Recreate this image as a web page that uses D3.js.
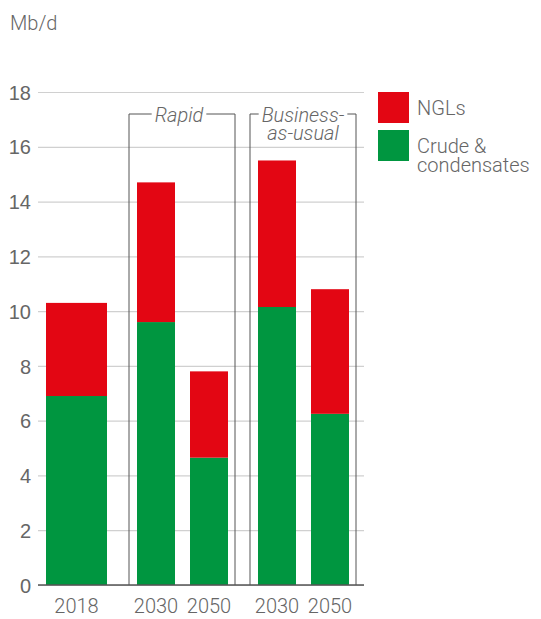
<!DOCTYPE html>
<html>
<head>
<meta charset="utf-8">
<script src="https://cdn.jsdelivr.net/npm/d3@7"></script>
<style>
  html, body { margin: 0; padding: 0; background: #fff; }
  svg { display: block; font-family: Roboto, "Helvetica Neue", Arial, sans-serif; font-weight: 300; }
</style>
</head>
<body>
<svg id="chart" width="541" height="619"></svg>
<script>
// Oil supply by type, million barrels per day
const keys = ["2018", "Rapid 2030", "Rapid 2050", "BAU 2030", "BAU 2050"];
const yearLabels = ["2018", "2030", "2050", "2030", "2050"];
const crude = [6.9, 9.6, 4.65, 10.15, 6.25];
const ngls = [3.4, 5.1, 3.15, 5.35, 4.55];
const yTicks = [0, 2, 4, 6, 8, 10, 12, 14, 16, 18];
const seriesNames = [["NGLs"], ["Crude &", "condensates"]];
const scenarios = [
  { name: ["Rapid"], members: ["Rapid 2030", "Rapid 2050"] },
  { name: ["Business-", "as-usual"], members: ["BAU 2030", "BAU 2050"] }
];

const RED = "#e30613", GREEN = "#009640", TEXT = "#666", AXIS = "#555", GRID = "#d0d0d0";

const svg = d3.select("#chart");
const plot = { left: 38, right: 364, top: 92, bottom: 585 };

const y = d3.scaleLinear().domain([0, 18]).range([plot.bottom, plot.top]);
const x = d3.scaleOrdinal().domain(keys).range([76.5, 156, 209, 277, 330]);
const barW = d3.scaleOrdinal().domain(keys).range([61, 38, 38, 38, 38]);

const rows = keys.map((k, i) => ({ key: k, label: yearLabels[i], crude: crude[i], ngls: ngls[i] }));
const stack = d3.stack().keys(["crude", "ngls"])(rows);

// gridlines
const yAxis = d3.axisLeft(y).tickValues(yTicks).tickSize(-(plot.right - plot.left)).tickPadding(7);
const ga = svg.append("g").attr("transform", `translate(${plot.left},0)`).call(yAxis);
ga.select(".domain").remove();
ga.selectAll(".tick line").attr("stroke", GRID).attr("stroke-width", 1.2);
ga.selectAll(".tick text").attr("fill", TEXT).attr("font-size", 20).attr("font-family", null).attr("dy", "0.36em");

// unit label
svg.append("text").attr("x", 10).attr("y", 30).attr("fill", TEXT).attr("font-size", 20).text("Mb/d");

// multi-line label as one text element
function multiline(sel, lines, x0, y0, lh) {
  lines.forEach((t, i) => sel.append("tspan").attr("x", x0).attr("y", y0 + i * lh).text(t));
  return sel;
}

// scenario brackets
const bracketTop = 114;
scenarios.forEach(s => {
  const first = s.members[0], last = s.members[s.members.length - 1];
  const x0 = x(first) - barW(first) / 2 - 8;
  const x1 = x(last) + barW(last) / 2 + 7;
  const g = svg.append("g");
  const cx = (x0 + x1) / 2 + (s.name.length > 1 ? 0 : -3);
  const label = multiline(g.append("text")
    .attr("text-anchor", "middle").attr("font-style", "italic")
    .attr("font-size", 20).attr("fill", TEXT), s.name, cx, 122, 18);
  const w = d3.max(label.selectAll("tspan").nodes(), n => n.getComputedTextLength());
  const tl = cx - w / 2 - 3, tr = cx + w / 2 + 3;
  g.append("path")
    .attr("d", `M${x0},${plot.bottom}V${bracketTop}H${tl}M${tr},${bracketTop}H${x1}V${plot.bottom}`)
    .attr("fill", "none").attr("stroke", AXIS).attr("stroke-width", 1);
});

// stacked bars
const colors = { crude: GREEN, ngls: RED };
svg.append("g").selectAll("g").data(stack).join("g")
  .attr("fill", d => colors[d.key])
  .selectAll("rect").data(d => d).join("rect")
  .attr("x", d => x(d.data.key) - barW(d.data.key) / 2)
  .attr("width", d => barW(d.data.key))
  .attr("y", d => y(d[1]))
  .attr("height", d => y(d[0]) - y(d[1]));

// baseline axis
svg.append("line").attr("x1", plot.left).attr("x2", plot.right)
  .attr("y1", plot.bottom).attr("y2", plot.bottom)
  .attr("stroke", AXIS).attr("stroke-width", 1.5);

// year labels
svg.append("g").selectAll("text").data(rows).join("text")
  .attr("x", d => x(d.key)).attr("y", 613)
  .attr("text-anchor", "middle").attr("font-size", 20).attr("fill", TEXT)
  .text(d => d.label);

// legend
const legend = svg.append("g").attr("transform", "translate(378,92)");
[RED, GREEN].forEach((c, i) => {
  const g = legend.append("g").attr("transform", `translate(0,${i * 38})`);
  g.append("rect").attr("width", 31).attr("height", 31).attr("fill", c);
  multiline(g.append("text").attr("font-size", 20).attr("fill", TEXT), seriesNames[i], 39, 23, 19);
});
</script>
</body>
</html>
